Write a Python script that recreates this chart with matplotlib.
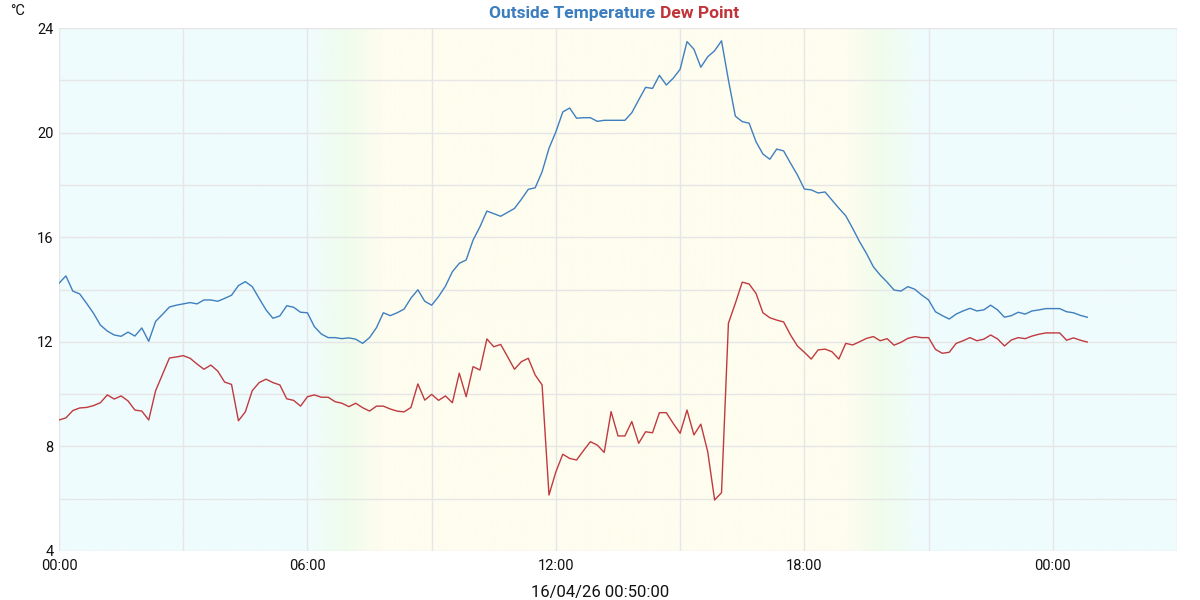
import numpy as np
import matplotlib
matplotlib.use("Agg")
import matplotlib.pyplot as plt
from matplotlib.colors import LinearSegmentedColormap
from matplotlib.ticker import MultipleLocator, FixedLocator

plt.rcParams['font.family'] = ['Roboto', 'DejaVu Sans']

# readings every 10 minutes from 00:00
outside_temp = [
    14.24, 14.52, 13.94, 13.83, 13.47, 13.09, 12.64, 12.41, 12.26, 12.21,
    12.37, 12.22, 12.53, 12.02, 12.78, 13.05, 13.33, 13.40, 13.45, 13.50,
    13.45, 13.60, 13.60, 13.55, 13.66, 13.78, 14.15, 14.30,
    14.11, 13.66, 13.22, 12.90, 12.99, 13.38, 13.32, 13.13, 13.11, 12.58,
    12.30, 12.16, 12.16, 12.12, 12.15, 12.10, 11.94, 12.16, 12.54, 13.11,
    13.00, 13.11, 13.25, 13.67, 13.99, 13.55,
    13.40, 13.73, 14.13, 14.68, 15.00, 15.13, 15.89, 16.40, 17.00, 16.90,
    16.80, 16.95, 17.10, 17.45, 17.83, 17.89, 18.50, 19.40, 20.03, 20.79,
    20.94, 20.55, 20.57, 20.57, 20.43, 20.47,
    20.47, 20.47, 20.47, 20.76, 21.25, 21.73, 21.69, 22.19, 21.82, 22.08,
    22.42, 23.48, 23.19, 22.50, 22.90, 23.13, 23.51, 22.01, 20.63, 20.42,
    20.36, 19.65, 19.18, 18.98, 19.37, 19.30,
    18.83, 18.38, 17.84, 17.81, 17.69, 17.73, 17.42, 17.11, 16.82, 16.34,
    15.83, 15.38, 14.87, 14.55, 14.28, 13.98, 13.94, 14.11, 14.01, 13.79,
    13.60, 13.15, 13.00, 12.87, 13.06, 13.18,
    13.28, 13.18, 13.22, 13.40, 13.22, 12.94, 13.00, 13.13, 13.06, 13.18,
    13.22, 13.27, 13.27, 13.27, 13.15, 13.11, 13.01, 12.94,
]

dew_point = [
    9.01, 9.09, 9.37, 9.47, 9.49, 9.56, 9.67, 9.97, 9.81, 9.93,
    9.74, 9.39, 9.35, 9.01, 10.13, 10.76, 11.38, 11.42, 11.47, 11.37,
    11.15, 10.95, 11.11, 10.88, 10.46, 10.37, 8.98, 9.32,
    10.13, 10.44, 10.57, 10.44, 10.35, 9.82, 9.76, 9.54, 9.90, 9.97,
    9.88, 9.88, 9.71, 9.65, 9.52, 9.65, 9.48, 9.35, 9.54, 9.54,
    9.43, 9.35, 9.32, 9.49, 10.39, 9.77,
    9.99, 9.76, 9.93, 9.67, 10.80, 9.90, 11.05, 10.92, 12.11, 11.81,
    11.90, 11.43, 10.95, 11.24, 11.37, 10.73, 10.35, 6.14, 7.03, 7.70,
    7.54, 7.48, 7.84, 8.18, 8.05, 7.77,
    9.33, 8.40, 8.40, 8.95, 8.12, 8.56, 8.52, 9.29, 9.29, 8.88,
    8.50, 9.39, 8.44, 8.85, 7.80, 5.95, 6.23, 12.71, 13.47, 14.28,
    14.21, 13.85, 13.11, 12.92, 12.83, 12.76,
    12.26, 11.84, 11.60, 11.34, 11.69, 11.72, 11.62, 11.34, 11.94, 11.88,
    12.00, 12.13, 12.20, 12.04, 12.12, 11.87, 11.98, 12.13, 12.20, 12.16,
    12.16, 11.71, 11.56, 11.60, 11.94, 12.04,
    12.16, 12.04, 12.10, 12.26, 12.11, 11.84, 12.07, 12.16, 12.12, 12.22,
    12.29, 12.34, 12.34, 12.34, 12.06, 12.15, 12.06, 11.99,
]

hour_ticks = [0, 6, 12, 18, 24]
hour_labels = ['00:00', '06:00', '12:00', '18:00', '00:00']
y_ticks = [4, 8, 12, 16, 20, 24]
timestamp = '16/04/26 00:50:00'

hours = np.arange(len(outside_temp)) * 10 / 60.0

night = '#effcfd'
day = '#fefdef'
dawn = '#f0fcec'

fig = plt.figure(figsize=(12, 6), dpi=100)
ax = fig.add_axes([59 / 1200, 1 - 551 / 600, 1118 / 1200, 523 / 600])

# day / night background
x_end = 27.0
stops = [(0, night), (6.0, night), (6.9, dawn), (7.8, day),
         (19.0, day), (19.9, dawn), (20.8, night), (x_end, night)]
cmap = LinearSegmentedColormap.from_list('daynight', [(s / x_end, c) for s, c in stops])
grad = np.linspace(0, 1, 1200).reshape(1, -1)
ax.imshow(grad, cmap=cmap, aspect='auto', extent=[0, x_end, 4, 24], zorder=0)

ax.plot(hours, outside_temp, color='#3f7fbf', linewidth=1.0, zorder=3)
ax.plot(hours, dew_point, color='#bf3a3f', linewidth=1.0, zorder=3)

ax.set_xlim(0, x_end)
ax.set_ylim(4, 24)
ax.xaxis.set_major_locator(FixedLocator(hour_ticks))
ax.set_xticklabels(hour_labels)
ax.xaxis.set_minor_locator(MultipleLocator(3))
ax.set_yticks(y_ticks)
ax.yaxis.set_minor_locator(MultipleLocator(2))
ax.grid(True, which='both', color='#e6e6e6', linewidth=1.0, zorder=1)
ax.set_axisbelow(False)
for g in ax.get_xgridlines() + ax.get_ygridlines():
    g.set_zorder(1)
ax.tick_params(which='both', length=0, labelsize=10.5, colors='#111111')
ax.tick_params(axis='x', pad=6)
ax.tick_params(axis='y', pad=4)
for s in ax.spines.values():
    s.set_visible(False)

# title in two colours
fig.canvas.draw()
r = fig.canvas.get_renderer()
t1 = fig.text(0, 0, 'Outside Temperature ', fontsize=12.5, fontweight='bold', color='#3a7dc0')
t2 = fig.text(0, 0, 'Dew Point', fontsize=12.5, fontweight='bold', color='#c0353a')
w1 = t1.get_window_extent(r).width / 1200
w2 = t2.get_window_extent(r).width / 1200
x0 = 0.5 + 14 / 1200 - (w1 + w2) / 2
t1.set_position((x0, 1 - 18 / 600))
t2.set_position((x0 + w1, 1 - 18 / 600))

fig.text(10 / 1200, 1 - 15 / 600, '°C', fontsize=10.5, color='#111111')
fig.text(0.5, 1 - 593 / 600, timestamp, ha='center', va='center', fontsize=12, color='#111111')

fig.savefig('out.png', dpi=100)
